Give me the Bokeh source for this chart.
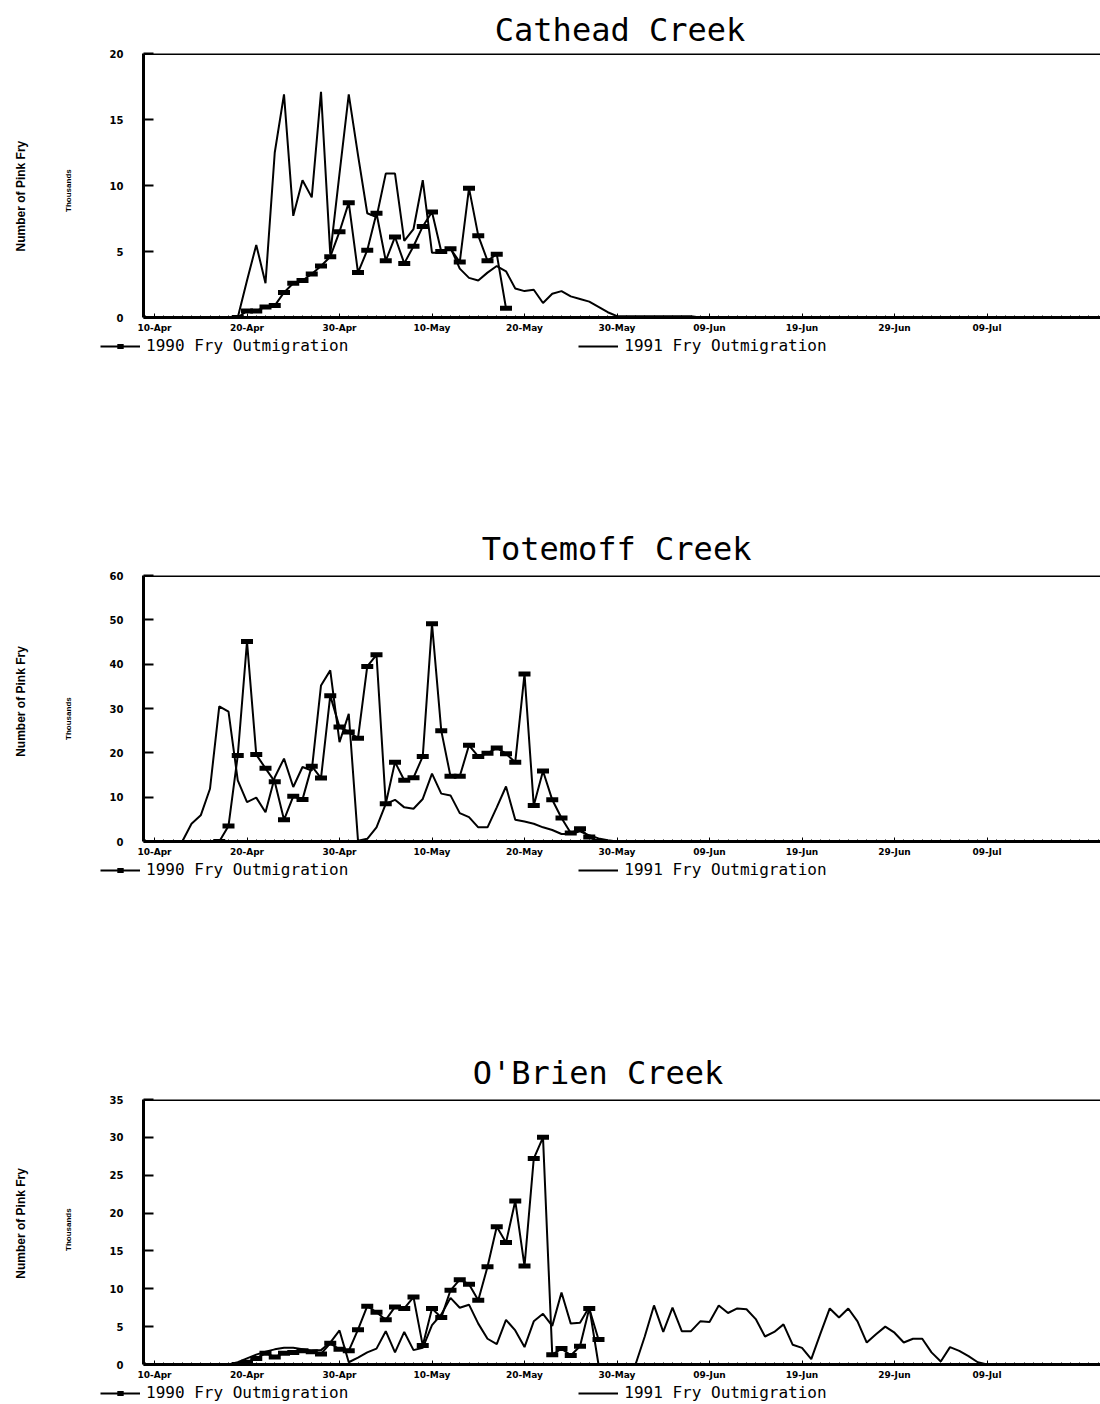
import math
from bokeh.plotting import figure
from bokeh.layouts import column, row
from bokeh.models import Range1d, FixedTicker, Span, Legend, LegendItem, Title, Label
from bokeh.embed import file_html
from bokeh.resources import INLINE

# ---------------- data (thousands of pink fry, day index 0 = 10-Apr) ----------------
tick_days = [0, 10, 20, 30, 40, 50, 60, 70, 80, 90]
tick_labels = ["10-Apr", "20-Apr", "30-Apr", "10-May", "20-May",
               "30-May", "09-Jun", "19-Jun", "29-Jun", "09-Jul"]

cathead_1990_start = 9
cathead_1990 = [0, 0.5, 0.5, 0.8, 0.9, 1.9, 2.6, 2.8, 3.3, 3.9, 4.6, 6.5, 8.7, 3.4, 5.1,
                7.9, 4.3, 6.1, 4.1, 5.4, 6.9, 8.0, 5.0, 5.2, 4.2, 9.8, 6.2, 4.3, 4.8, 0.7]
cathead_1991_start = 9
cathead_1991 = [0, 2.8, 5.5, 2.6, 12.5, 16.9, 7.7, 10.4, 9.1, 17.1, 4.8, 10.9, 16.9, 12.3,
                7.9, 7.6, 10.9, 10.9, 5.8, 6.7, 10.4, 4.9, 4.9, 5.3, 3.7, 3.0, 2.8, 3.4,
                3.9, 3.5, 2.2, 2.0, 2.1, 1.1, 1.8, 2.0, 1.6, 1.4, 1.2, 0.8, 0.4, 0.1,
                0.1, 0.1, 0.1, 0.1, 0.1, 0.1, 0.1, 0.1, 0]

totemoff_1990_start = 7
totemoff_1990 = [0, 3.5, 19.4, 45.1, 19.6, 16.5, 13.5, 4.9, 10.2, 9.5, 17.0, 14.3, 32.9,
                 25.8, 24.7, 23.3, 39.5, 42.1, 8.5, 17.9, 13.8, 14.4, 19.2, 49.1, 25.0,
                 14.7, 14.7, 21.7, 19.2, 19.9, 21.1, 19.8, 17.9, 37.8, 8.1, 15.9, 9.4,
                 5.3, 1.9, 2.9, 1.0, 0]
totemoff_1991_start = 3
totemoff_1991 = [0, 4.0, 5.9, 11.9, 30.5, 29.3, 13.8, 8.9, 9.9, 6.6, 14.5, 18.7, 12.3,
                 16.8, 16.0, 35.2, 38.6, 22.4, 28.8, 0.2, 0.6, 3.2, 8.5, 9.4, 7.7, 7.4,
                 9.6, 15.3, 10.8, 10.4, 6.4, 5.5, 3.2, 3.2, 7.7, 12.4, 4.9, 4.5, 4.0,
                 3.2, 2.6, 1.7, 1.7, 2.3, 1.4, 0.7, 0.3, 0]

obrien_1990_start = 9
obrien_1990 = [0, 0.3, 0.8, 1.5, 1.0, 1.5, 1.6, 1.8, 1.7, 1.4, 2.8, 2.0, 1.8, 4.6, 7.7,
               6.9, 5.9, 7.6, 7.4, 8.9, 2.5, 7.4, 6.2, 9.8, 11.2, 10.6, 8.5, 12.9, 18.2,
               16.1, 21.6, 13.0, 27.2, 30.0, 1.3, 2.1, 1.2, 2.4, 7.4, 3.3]
obrien_1991_start = 8
obrien_1991 = [0, 0.3, 0.8, 1.3, 1.7, 2.0, 2.2, 2.2, 2.0, 1.8, 1.9, 2.9, 4.5, 0.3, 0.9,
               1.6, 2.1, 4.4, 1.6, 4.3, 1.9, 2.2, 5.2, 6.6, 8.8, 7.5, 7.9, 5.4, 3.4, 2.7,
               5.9, 4.5, 2.3, 5.7, 6.7, 5.1, 9.5, 5.4, 5.5, 7.6, 0, 0, 0, 0, 0, 3.7, 7.8,
               4.3, 7.5, 4.4, 4.4, 5.7, 5.6, 7.8, 6.8, 7.4, 7.3, 6.0, 3.7, 4.3, 5.3, 2.6,
               2.2, 0.7, 4.1, 7.4, 6.2, 7.4, 5.7, 2.9, 4.0, 5.0, 4.2, 2.9, 3.4, 3.4, 1.6,
               0.4, 2.3, 1.8, 1.1, 0.3, 0]

titles = ["Cathead  Creek", "Totemoff  Creek", "O'Brien  Creek"]
y_ticks = [[0, 5, 10, 15, 20], [0, 10, 20, 30, 40, 50, 60], [0, 5, 10, 15, 20, 25, 30, 35]]
legend_labels = ["1990 Fry Outmigration", "1991 Fry Outmigration"]

# ---------------- layout constants (page pixels) ----------------
PAGE_W = 1100
SIDE_W = 80               # strip holding the vertical axis titles
FRAME_LEFT = 143          # page x of the y axis line
XS, XE = -1.19, 102.27
TITLE_FONT = "DejaVu Sans Mono"
TITLE_PX = 32
CHAR_W = 0.57 * TITLE_PX

panels = [
    dict(h=337, top=53, bottom=20, standoff=9, title_center=622, ylab_y=182, thou_y=175,
         leg_h=182),
    dict(h=342, top=56, bottom=20, standoff=16, title_center=618, ylab_y=162, thou_y=184,
         leg_h=183),
    dict(h=340, top=55, bottom=20, standoff=15, title_center=600, ylab_y=159, thou_y=167,
         leg_h=18),
]

series = [
    (cathead_1990_start, cathead_1990, cathead_1991_start, cathead_1991),
    (totemoff_1990_start, totemoff_1990, totemoff_1991_start, totemoff_1991),
    (obrien_1990_start, obrien_1990, obrien_1991_start, obrien_1991),
]

FONT = "DejaVu Sans"
blocks = []
for i, pan in enumerate(panels):
    yt = y_ticks[i]
    ymax = yt[-1]
    h = pan["h"]

    # ---- strip with the vertical axis titles ----
    side = figure(width=SIDE_W, height=h, output_backend="svg", toolbar_location=None,
                  x_range=Range1d(0, SIDE_W), y_range=Range1d(0, h),
                  x_axis_type=None, y_axis_type=None, min_border=0)
    side.outline_line_color = None
    side.grid.grid_line_color = None
    side.add_layout(Label(x=20, y=h - pan["ylab_y"], text="Number of Pink Fry",
                          angle=math.pi / 2, text_align="center", text_baseline="middle",
                          text_font="Liberation Sans", text_font_size="12px",
                          text_font_style="bold", text_color="black"))
    side.add_layout(Label(x=68, y=h - pan["thou_y"], text="Thousands",
                          angle=math.pi / 2, text_align="center", text_baseline="middle",
                          text_font="Liberation Sans", text_font_size="8px",
                          text_font_style="bold", text_color="black"))

    # ---- chart ----
    p = figure(width=PAGE_W - SIDE_W, height=h, output_backend="svg", toolbar_location=None,
               x_range=Range1d(XS, XE), y_range=Range1d(0, ymax),
               min_border_left=FRAME_LEFT - SIDE_W, min_border_right=0,
               min_border_top=pan["top"], min_border_bottom=pan["bottom"])
    p.outline_line_color = None
    p.xgrid.grid_line_color = None
    p.ygrid.grid_line_color = None
    title_w = len(titles[i]) * CHAR_W
    p.title = Title(text=titles[i], align="left",
                    offset=pan["title_center"] - title_w / 2 - FRAME_LEFT,
                    text_font=TITLE_FONT, text_font_size=f"{TITLE_PX}px",
                    text_font_style="normal", text_color="black", standoff=pan["standoff"])

    xa = p.xaxis[0]
    xa.ticker = FixedTicker(ticks=tick_days, minor_ticks=list(range(-1, 103)))
    xa.major_label_overrides = {d: lab for d, lab in zip(tick_days, tick_labels)}
    xa.axis_line_width = 3
    xa.major_tick_in = 4
    xa.major_tick_out = 0
    xa.minor_tick_in = 2
    xa.minor_tick_out = 0
    xa.major_label_standoff = 5
    xa.major_label_text_font = FONT
    xa.major_label_text_font_size = "9px"
    xa.major_label_text_font_style = "bold"
    xa.major_label_text_color = "black"

    ya = p.yaxis[0]
    ya.ticker = FixedTicker(ticks=yt)
    ya.axis_line_width = 3
    ya.major_tick_in = 10
    ya.major_tick_out = 0
    ya.major_tick_line_width = 2
    ya.minor_tick_line_color = None
    ya.major_label_standoff = 20
    ya.major_label_text_font = FONT
    ya.major_label_text_font_size = "10px"
    ya.major_label_text_font_style = "bold"
    ya.major_label_text_color = "black"

    p.add_layout(Span(location=ymax, dimension="width", line_color="black", line_width=3))

    s90, v90, s91, v91 = series[i]
    d90 = list(range(s90, s90 + len(v90)))
    d91 = list(range(s91, s91 + len(v91)))
    p.line(d91, v91, line_color="black", line_width=2)
    p.line(d90, v90, line_color="black", line_width=2)
    p.scatter(d90, v90, marker="dash", size=12, line_width=5, line_color="black")

    # ---- legend strip (key renderers sit outside the visible range) ----
    lh = pan["leg_h"]
    lg = figure(width=PAGE_W, height=lh, output_backend="svg", toolbar_location=None,
                x_range=Range1d(0, PAGE_W), y_range=Range1d(0, lh),
                x_axis_type=None, y_axis_type=None, min_border=0)
    lg.outline_line_color = None
    lg.grid.grid_line_color = None
    k90a = lg.line(x=[-50, -40], y=[-50, -50], line_color="black", line_width=2)
    k90b = lg.scatter(x=[-50], y=[-50], marker="dash", size=12, line_width=5,
                      line_color="black")
    k91 = lg.line(x=[-50, -40], y=[-50, -50], line_color="black", line_width=2)
    legend = Legend(items=[LegendItem(label=legend_labels[0], renderers=[k90a, k90b]),
                           LegendItem(label=legend_labels[1], renderers=[k91])],
                    orientation="horizontal", location=(100, lh - 18),
                    glyph_width=40, glyph_height=16, label_standoff=6, spacing=230,
                    padding=0, margin=0, border_line_color=None, background_fill_alpha=0,
                    label_text_font="DejaVu Sans Mono", label_text_font_size="16px",
                    label_text_color="black")
    lg.add_layout(legend)

    blocks.append(row(side, p, spacing=0))
    blocks.append(lg)

layout = column(*blocks, spacing=0)
open("out.html", "w").write(file_html(layout, INLINE))
